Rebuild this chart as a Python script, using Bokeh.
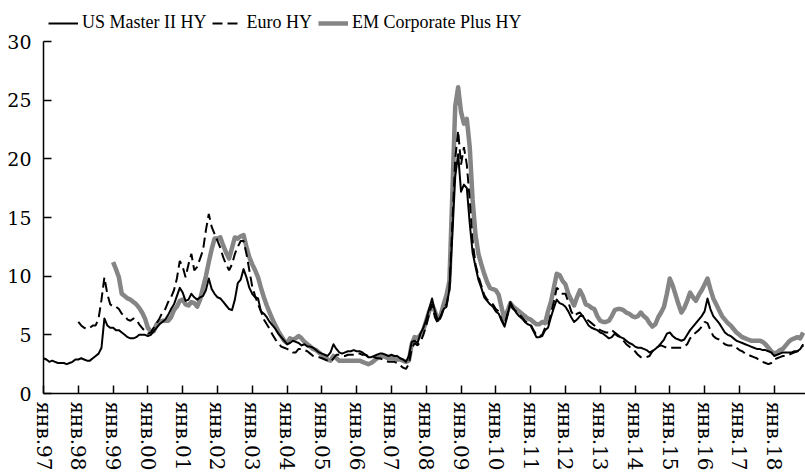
from bokeh.plotting import figure
from bokeh.models import Legend, LegendItem, FixedTicker, Range1d
from bokeh.embed import file_html
from bokeh.resources import INLINE
import numpy as np

# Monthly high-yield yields, %, January of the first year through November 2018
us_start, euro_start, em_start = 1997, 1998, 1999

us_master_hy = [
    3.0, 2.9, 2.7, 2.8, 2.7, 2.6, 2.6, 2.6, 2.5, 2.6, 2.7, 2.9,      # 1997
    2.9, 3.0, 2.9, 2.8, 2.8, 3.0, 3.2, 3.4, 3.9, 6.4, 5.8, 5.6,      # 1998
    5.6, 5.4, 5.4, 5.2, 5.0, 4.8, 4.7, 4.7, 4.8, 5.0, 5.0, 5.0,      # 1999
    4.9, 5.0, 5.3, 5.6, 5.9, 6.1, 6.3, 6.7, 7.2, 7.6, 8.3, 9.0,      # 2000
    8.6, 7.9, 8.0, 8.5, 8.2, 8.0, 8.2, 8.3, 8.8, 9.8, 8.9, 8.5,      # 2001
    8.2, 8.1, 7.8, 7.5, 7.2, 7.1, 8.0, 9.4, 9.7, 10.6, 9.9, 9.0,     # 2002
    8.5, 8.2, 8.1, 7.0, 6.8, 6.5, 6.1, 5.8, 5.5, 5.1, 4.8, 4.5,      # 2003
    4.2, 4.3, 4.5, 4.4, 4.3, 4.1, 4.2, 4.0, 4.0, 3.9, 3.7, 3.5,      # 2004
    3.4, 3.3, 3.2, 3.5, 4.2, 3.8, 3.5, 3.4, 3.5, 3.6, 3.6, 3.7,      # 2005
    3.6, 3.6, 3.5, 3.3, 3.1, 3.1, 3.2, 3.3, 3.4, 3.4, 3.3, 3.2,      # 2006
    3.3, 3.2, 3.2, 3.0, 2.9, 2.7, 3.2, 4.4, 4.5, 4.3, 5.1, 5.6,      # 2007
    6.3, 7.2, 8.1, 7.0, 6.2, 6.6, 7.2, 7.4, 8.9, 13.5, 18.5, 20.4,   # 2008
    17.2, 17.8, 17.5, 14.5, 12.0, 10.8, 9.7, 9.0, 8.2, 7.9, 7.6, 7.4,  # 2009
    7.0, 6.8, 6.2, 5.7, 6.6, 7.8, 7.3, 6.9, 6.6, 6.4, 6.1, 5.9,      # 2010
    5.8, 5.3, 4.8, 4.8, 4.9, 5.4, 5.6, 6.5, 7.3, 8.0, 7.7, 7.6,      # 2011
    7.4, 7.0, 6.5, 6.1, 6.3, 6.6, 6.6, 6.2, 5.8, 5.6, 5.5, 5.4,      # 2012
    5.2, 5.1, 4.9, 4.7, 4.8, 5.1, 4.9, 4.8, 4.7, 4.5, 4.3, 4.2,      # 2013
    4.0, 3.9, 3.9, 3.8, 3.7, 3.5, 3.6, 3.8, 4.0, 4.3, 4.6, 5.1,      # 2014
    5.2, 4.9, 4.7, 4.6, 4.5, 4.6, 5.0, 5.4, 5.7, 6.0, 6.3, 6.6,      # 2015
    7.0, 8.1, 7.2, 6.6, 6.3, 6.0, 5.6, 5.2, 5.0, 4.9, 4.7, 4.5,      # 2016
    4.4, 4.3, 4.2, 4.1, 4.0, 3.9, 3.8, 3.8, 3.7, 3.7, 3.6, 3.5,      # 2017
    3.2, 3.3, 3.4, 3.5, 3.5, 3.5, 3.5, 3.6, 3.6, 3.8, 4.2,           # 2018
]

euro_hy = [
    6.1, 5.8, 5.6, 5.5, 5.6, 5.8, 5.8, 6.4, 8.0, 9.9, 8.5, 7.6,      # 1998
    7.4, 7.4, 7.2, 6.8, 6.6, 6.3, 6.2, 6.4, 6.3, 5.9, 5.6, 5.3,      # 1999
    5.1, 5.2, 5.6, 6.0, 6.4, 6.9, 7.2, 7.8, 8.2, 8.8, 9.8, 11.3,     # 2000
    10.8, 9.9, 11.0, 11.9, 10.5, 10.8, 11.5, 12.2, 13.9, 15.3, 14.2, 13.6,  # 2001
    13.0, 12.4, 11.6, 11.0, 10.5, 11.0, 11.9, 12.5, 13.0, 13.0, 11.9, 10.5,  # 2002
    9.1, 8.3, 7.6, 7.0, 6.3, 5.9, 5.5, 5.0, 4.6, 4.3, 4.0, 3.9,      # 2003
    3.8, 3.7, 3.5, 3.5, 3.8, 3.8, 3.7, 3.6, 3.4, 3.2, 3.1, 3.1,      # 2004
    3.0, 2.9, 2.8, 2.7, 3.0, 3.3, 3.3, 3.2, 3.2, 3.3, 3.3, 3.3,      # 2005
    3.4, 3.4, 3.3, 3.3, 3.2, 3.2, 3.1, 3.0, 3.0, 2.9, 2.8, 2.7,      # 2006
    2.7, 2.7, 2.6, 2.4, 2.2, 2.1, 2.5, 3.8, 4.3, 4.1, 4.4, 5.0,      # 2007
    5.8, 6.8, 7.6, 6.5, 6.0, 6.5, 7.3, 7.6, 8.8, 14.5, 20.0, 22.4,   # 2008
    19.5, 21.0, 19.5, 16.5, 13.0, 11.0, 10.0, 9.2, 8.4, 8.0, 7.8, 7.6,  # 2009
    7.2, 7.0, 6.3, 5.8, 6.8, 7.5, 7.2, 7.0, 6.8, 6.5, 6.2, 6.0,      # 2010
    5.9, 5.4, 5.0, 4.9, 5.0, 5.6, 5.8, 6.8, 7.8, 9.0, 8.8, 8.5,      # 2011
    8.5, 7.8, 7.0, 6.6, 6.8, 6.9, 6.6, 6.4, 6.2, 6.0, 5.8, 5.6,      # 2012
    5.4, 5.3, 5.2, 5.2, 5.4, 5.2, 5.0, 4.8, 4.5, 4.2, 4.0, 3.8,      # 2013
    3.6, 3.3, 3.1, 3.1, 3.1, 3.2, 3.6, 3.9, 4.0, 4.1, 4.0, 3.9,      # 2014
    3.9, 3.9, 3.9, 3.9, 3.9, 4.0, 4.2, 4.7, 5.0, 5.2, 5.4, 5.7,      # 2015
    6.1, 6.0, 5.4, 4.9, 4.7, 4.6, 4.4, 4.2, 4.1, 4.1, 4.1, 3.9,      # 2016
    3.7, 3.6, 3.4, 3.3, 3.2, 3.1, 3.0, 2.8, 2.7, 2.6, 2.5, 2.6,      # 2017
    2.9, 3.0, 3.1, 3.2, 3.2, 3.3, 3.4, 3.5, 3.6, 3.8, 4.1,           # 2018
]

em_corp_plus_hy = [
    11.2, 10.6, 9.9, 8.5, 8.3, 8.1, 8.0, 7.8, 7.6, 7.3, 6.9, 6.4,    # 1999
    5.6, 5.3, 5.3, 5.9, 6.1, 6.2, 6.2, 6.2, 6.5, 7.1, 7.4, 7.9,      # 2000
    8.0, 7.6, 7.5, 7.8, 7.7, 7.4, 8.0, 9.0, 10.0, 11.2, 12.3, 13.2,  # 2001
    13.2, 13.3, 12.6, 12.0, 11.5, 12.4, 13.3, 13.2, 13.4, 13.5, 12.5, 11.6,  # 2002
    11.0, 10.5, 9.9, 9.0, 8.2, 7.5, 6.9, 6.3, 5.8, 5.3, 4.9, 4.5,    # 2003
    4.3, 4.7, 4.6, 4.7, 4.9, 4.7, 4.4, 4.2, 4.0, 3.8, 3.7, 3.5,      # 2004
    3.3, 3.1, 2.9, 2.8, 3.2, 3.0, 2.8, 2.8, 2.8, 2.8, 2.8, 2.8,      # 2005
    2.8, 2.8, 2.7, 2.6, 2.5, 2.6, 2.8, 3.0, 3.1, 3.2, 3.1, 3.0,      # 2006
    3.0, 3.0, 2.9, 2.9, 2.8, 2.7, 2.8, 4.2, 4.8, 4.7, 5.0, 5.4,      # 2007
    6.2, 7.0, 7.6, 7.0, 6.3, 6.7, 7.6, 8.4, 9.6, 17.0, 24.5, 26.1,   # 2008
    24.0, 23.0, 23.4, 21.0, 16.5, 13.5, 11.9, 11.0, 10.2, 9.5, 9.0, 8.9,  # 2009
    8.8, 8.4, 7.3, 6.3, 7.0, 7.7, 7.4, 7.2, 7.0, 6.8, 6.6, 6.4,      # 2010
    6.3, 6.1, 5.9, 5.9, 6.1, 6.0, 7.0, 7.8, 9.0, 10.2, 10.1, 9.6,    # 2011
    9.3, 8.5, 8.0, 7.5, 8.2, 8.8, 8.3, 7.6, 7.5, 7.3, 7.2, 6.6,      # 2012
    6.2, 6.1, 6.1, 6.2, 6.6, 7.1, 7.2, 7.2, 7.1, 6.9, 6.8, 6.6,      # 2013
    6.5, 6.6, 6.9, 6.6, 6.4, 6.0, 5.7, 5.9, 6.5, 6.9, 7.4, 8.5,      # 2014
    9.8, 9.2, 8.4, 7.6, 6.9, 7.3, 7.9, 8.6, 8.2, 7.9, 8.4, 8.8,      # 2015
    9.3, 9.8, 8.9, 8.1, 7.6, 7.1, 6.6, 6.3, 6.0, 5.8, 5.5, 5.2,      # 2016
    5.0, 4.8, 4.7, 4.6, 4.5, 4.5, 4.5, 4.5, 4.4, 4.2, 3.9, 3.6,      # 2017
    3.4, 3.5, 3.7, 3.8, 4.1, 4.4, 4.6, 4.7, 4.8, 4.7, 5.2,           # 2018
]

tick_years = list(range(1997, 2019))
tick_labels = ["янв." + str(y)[2:] for y in tick_years]
y_ticks = [0, 5, 10, 15, 20, 25, 30]
series_names = ["US Master II HY", "Euro HY", "EM Corporate Plus HY"]


def month_axis(start_year, values):
    # decimal-year position of each monthly observation
    return start_year + np.arange(len(values)) / 12.0


TICK_FONT = "DejaVu Serif"
LEGEND_FONT = "Liberation Serif"

# The frame runs to the top edge so the legend can sit above the 30 line;
# the value axis itself is bounded to 0..30 (352 px for 30 units).
FRAME_H = 393
Y_TOP = 30 * FRAME_H / 352.0

p = figure(frame_width=762, frame_height=FRAME_H, output_backend="svg",
           toolbar_location=None,
           x_range=Range1d(1997.0, 2018.9), y_range=Range1d(0, Y_TOP),
           min_border_left=43, min_border_right=0, min_border_top=0,
           min_border_bottom=80)
p.outline_line_color = None
p.grid.grid_line_color = None
p.background_fill_color = "white"
p.border_fill_color = "white"

r_em = p.line(month_axis(em_start, em_corp_plus_hy), em_corp_plus_hy,
              line_color="#858585", line_width=4.5, line_join="round")
r_us = p.line(month_axis(us_start, us_master_hy), us_master_hy,
              line_color="black", line_width=2, line_join="round")
r_eu = p.line(month_axis(euro_start, euro_hy), euro_hy,
              line_color="black", line_width=2, line_dash="10 5")

# axes: ticks point inwards, serif labels
for ax in (p.xaxis[0], p.yaxis[0]):
    ax.axis_line_color = "black"
    ax.axis_line_width = 1.5
    ax.major_tick_line_color = "black"
    ax.major_tick_line_width = 1.5
    ax.major_tick_in = 8
    ax.major_tick_out = 0
    ax.minor_tick_line_color = None
    ax.major_label_text_font = TICK_FONT
    ax.major_label_text_color = "black"

p.xaxis.ticker = FixedTicker(ticks=tick_years)
p.xaxis.major_label_overrides = {y: lab for y, lab in zip(tick_years, tick_labels)}
p.xaxis.major_label_orientation = "vertical"
p.xaxis.major_label_text_font_size = "20px"
p.xaxis.major_label_standoff = 8

p.yaxis.ticker = FixedTicker(ticks=y_ticks)
p.yaxis.bounds = (0, 30)
p.yaxis.major_label_text_font_size = "19px"
p.yaxis.major_label_standoff = 12

# legend along the top strip, offset in px from the frame's lower-left corner
legend = Legend(items=[LegendItem(label=series_names[0], renderers=[r_us]),
                       LegendItem(label=series_names[1], renderers=[r_eu]),
                       LegendItem(label=series_names[2], renderers=[r_em])],
                orientation="horizontal", location=(5, 360),
                border_line_color=None, background_fill_alpha=0,
                padding=2, margin=0, spacing=6,
                glyph_width=30, glyph_height=20, label_standoff=4,
                label_text_font=LEGEND_FONT, label_text_font_size="18px",
                label_text_color="black")
p.add_layout(legend, "center")

open("out.html", "w").write(file_html(p, INLINE))
